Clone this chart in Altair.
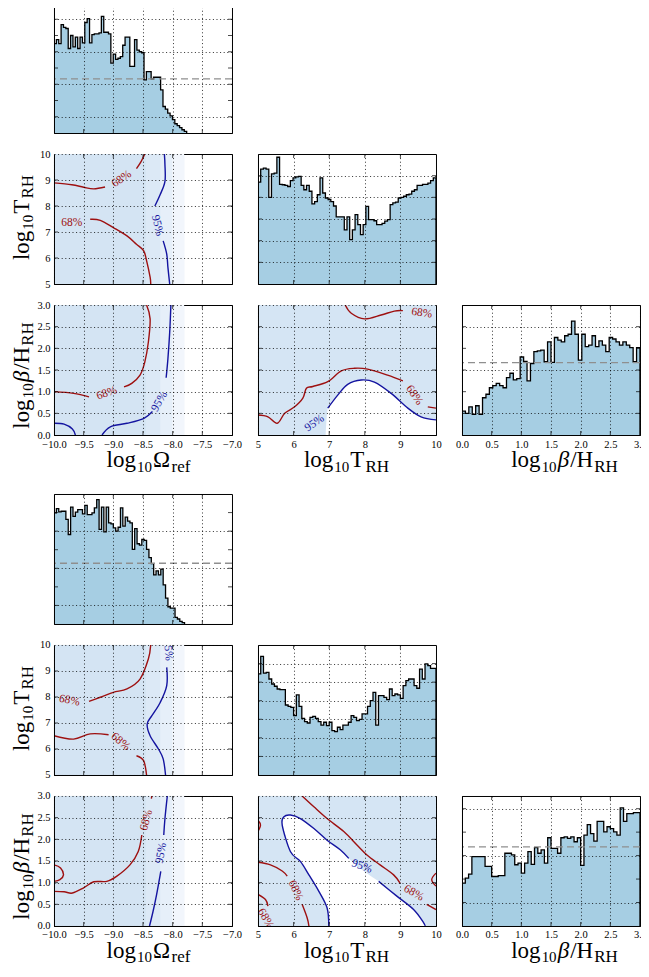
import altair as alt
import numpy as np
import pandas as pd

W, H = 178, 130
SERIF = "Liberation Serif"
RED = "#9e1010"
BLUE = "#1414a0"
HIST_FILL = "#a6cee3"
DENS = "#d5e5f4"
ONE = pd.DataFrame({"k": [0]})
XT_OFF = 32

OMEGA_DOM = [-10.0, -7.0]
T_DOM = [5.0, 10.0]
B_DOM = [0.0, 3.0]
OMEGA_TICKS = [-10.0, -9.5, -9.0, -8.5, -8.0, -7.5, -7.0]
T_TICKS = [5, 6, 7, 8, 9, 10]
B_TICKS = [0.0, 0.5, 1.0, 1.5, 2.0, 2.5, 3.0]

# ---------------- histograms (heights in grid units) ----------------
omega_top = [5.5, 5.75, 5.5, 6.67, 6.5, 6.43, 5.2, 6.0, 5.3, 5.9, 5.2, 5.9, 5.55, 6.8, 7.04, 5.55,
             6.06, 6.1, 6.1, 6.16, 7.18, 6.2, 6.2, 6.1, 4.3, 4.86, 4.53, 4.6, 4.7, 5.4, 5.9, 5.9,
             4.1, 4.1, 5.75, 5.1, 5.0, 4.94, 3.27, 3.78, 3.78, 3.33, 3.43, 3.43, 3.43, 2.65, 1.63,
             1.47, 1.22, 1.06, 0.82, 0.57, 0.45, 0.33, 0.2, 0.1]
omega_top_range = [-10.0, -7.764]
omega_top_prior = 3.33

t_top = [4.7, 5.3, 5.35, 5.3, 4.0, 5.08, 5.12, 5.85, 4.6, 4.58, 4.55, 4.5, 4.77, 4.9, 4.94, 4.97,
         4.55, 4.35, 4.55, 4.28, 3.7, 3.8, 4.12, 4.9, 4.2, 3.97, 3.9, 3.8, 3.6, 3.1, 3.1, 3.1, 2.5,
         3.1, 2.05, 2.5, 3.2, 2.74, 2.28, 2.74, 3.58, 2.97, 2.97, 2.92, 2.74, 2.74, 2.8, 2.9, 2.97,
         3.66, 3.74, 3.78, 3.97, 4.0, 4.05, 4.12, 4.15, 4.28, 4.35, 4.55, 4.55, 4.6, 4.6, 4.66,
         4.77, 4.9]

b_top = [1.1, 1.0, 1.3, 0.95, 1.35, 0.95, 1.72, 1.88, 2.18, 2.28, 2.38, 2.28, 2.18, 2.65, 2.85,
         2.54, 2.6, 3.6, 3.4, 2.5, 3.3, 3.85, 3.88, 3.92, 3.38, 4.3, 3.35, 4.5, 4.38, 4.3, 4.58,
         4.65, 5.26, 4.65, 3.46, 4.65, 4.08, 4.15, 4.58, 4.08, 4.34, 4.15, 3.85, 4.5, 4.43, 4.3,
         4.15, 4.3, 4.15, 4.03, 3.38, 4.03]
b_top_prior = 3.34

omega_bot = [5.98, 6.21, 6.04, 6.07, 6.07, 5.63, 4.82, 6.29, 5.80, 6.02, 6.16, 6.16, 5.93, 6.39,
             5.89, 5.89, 5.98, 6.25, 6.70, 5.09, 6.29, 4.96, 6.29, 5.45, 5.39, 5.18, 5.0, 5.21,
             6.25, 5.27, 5.75, 5.54, 5.45, 4.02, 5.14, 4.32, 4.25, 4.55, 4.5, 4.02, 3.57, 3.25,
             2.64, 2.86, 2.64, 2.95, 2.11, 1.39, 0.93, 0.86, 0.86, 0.36, 0.27, 0.14, 0.07]
omega_bot_range = [-10.0, -7.80]
omega_bot_prior = 3.27

t_bot = [5.44, 6.39, 5.49, 5.53, 5.17, 4.9, 4.78, 4.63, 4.6, 4.6, 3.77, 3.7, 3.64, 3.2, 4.31, 3.7,
         3.05, 2.87, 2.8, 3.1, 3.16, 3.05, 2.87, 2.69, 2.84, 2.66, 2.84, 2.39, 2.33, 2.57, 2.44,
         2.69, 2.69, 2.84, 3.2, 3.1, 2.93, 3.0, 3.29, 3.29, 3.7, 4.0, 4.45, 2.69, 4.27, 4.27, 4.18,
         4.06, 4.63, 4.27, 4.36, 4.31, 4.13, 4.81, 5.08, 5.17, 5.17, 4.81, 4.67, 5.7, 5.17, 5.98,
         5.89, 5.74, 5.74]

b_bot = [1.83, 2.04, 2.21, 2.96, 2.96, 2.96, 2.96, 2.54, 2.54, 2.11, 2.11, 2.15, 2.15, 3.1, 3.1,
         3.03, 2.61, 2.68, 2.25, 2.68, 3.17, 2.63, 3.34, 3.1, 3.24, 2.68, 3.76, 3.31, 3.31, 3.1,
         3.76, 3.8, 3.73, 3.8, 3.59, 3.76, 2.58, 3.87, 4.32, 3.94, 3.62, 4.46, 4.46, 4.01, 4.23,
         4.15, 4.01, 3.87, 5.03, 4.46, 4.79, 4.79, 4.83, 4.83]
b_bot_prior = 3.37

# ---------------- density regions ----------------
omega_band_x0 = [-10.0, -8.45, -8.2, -8.0]
omega_band_x1 = [-8.45, -8.2, -8.0, -7.8]
omega_band_col = ["#d4e4f3", "#dce9f6", "#e6eff9", "#f2f6fc"]

hole_top_x = [6.9, 6.96, 7.24, 7.52, 7.9, 8.27, 8.74, 9.21, 9.58, 10.0]
hole_top_y = [0.0, 0.62, 0.92, 1.17, 1.27, 1.22, 0.96, 0.62, 0.42, 0.35]

hole_bot_x = [5.68, 5.73, 5.91, 6.19, 6.43, 6.57, 6.71, 6.94, 6.99, 7.31, 7.55, 7.92, 8.39, 8.9,
              9.37, 9.65, 9.69]
hole_bot_hi = [2.33, 2.52, 2.56, 2.48, 2.32, 2.25, 2.15, 1.98, 1.95, 1.76, 1.56, 1.3, 1.03, 0.69,
               0.38, 0.08, 0.0]
hole_bot_lo = [2.33, 2.2, 1.72, 1.49, 1.18, 0.99, 0.8, 0.42, 0.0, 0.0, 0.0, 0.0, 0.0, 0.0, 0.0,
               0.0, 0.0]

# ---------------- contours: (level, xs, ys) ----------------
ot_top = [
    ("68", [-10.0, -9.7, -9.5, -9.33, -9.14], [8.89, 8.82, 8.72, 8.66, 8.73]),
    ("68", [-8.61, -8.53, -8.47], [9.44, 9.72, 10.0]),
    ("68", [-9.39, -9.22, -9.0, -8.77, -8.61, -8.49, -8.44, -8.38, -8.37],
     [7.49, 7.45, 7.17, 6.85, 6.53, 6.28, 5.9, 5.26, 5.0]),
    ("95", [-8.14, -8.13, -8.13, -8.21, -8.3], [10.0, 9.59, 8.95, 8.44, 8.0]),
    ("95", [-8.16, -8.1, -8.08, -8.05], [6.66, 6.15, 5.64, 5.0]),
]
ot_top_labels = [("68", -8.86, 9.04, 325), ("68", -9.70, 7.33, 0), ("95", -8.26, 7.25, 76)]

ob_top = [
    ("68", [-8.44, -8.38, -8.41, -8.47, -8.55, -8.69, -8.82], [3.0, 2.68, 2.14, 1.68, 1.38, 1.19, 1.11]),
    ("68", [-9.41, -9.67, -10.0], [0.88, 0.96, 1.0]),
    ("95", [-8.03, -8.05, -8.08, -8.11], [3.0, 2.37, 1.76, 1.32]),
    ("95", [-8.34, -8.49, -8.77, -9.05, -9.19], [0.54, 0.38, 0.27, 0.19, 0.0]),
    ("95", [-10.0, -9.83, -9.69, -9.64], [0.27, 0.25, 0.14, 0.0]),
]
ob_top_labels = [("68", -9.11, 0.96, 340), ("95", -8.22, 0.77, 300)]

tb_top = [
    ("68", [7.45, 7.62, 7.99, 8.46, 8.83, 9.07], [3.0, 2.81, 2.68, 2.77, 2.86, 2.87]),
    ("68", [5.0, 5.28, 5.54, 5.75, 6.03, 6.26, 6.36, 6.54, 6.96, 7.34, 7.71, 8.08, 8.64, 9.07],
     [0.46, 0.42, 0.27, 0.5, 0.65, 0.85, 1.08, 1.12, 1.23, 1.48, 1.54, 1.52, 1.38, 1.25]),
    ("68", [9.77, 10.0], [0.65, 0.62]),
    ("95", [6.96, 7.24, 7.52, 7.9, 8.27, 8.74, 9.21, 9.58, 10.0],
     [0.62, 0.92, 1.17, 1.27, 1.22, 0.96, 0.62, 0.42, 0.35]),
]
tb_top_labels = [("68", 9.6, 2.81, 8), ("68", 9.39, 0.92, 55), ("95", 6.59, 0.27, 325)]

ot_bot = [
    ("68", [-8.37, -8.41, -8.55, -8.77, -9.0, -9.22, -9.41], [10.0, 9.46, 8.69, 8.31, 8.18, 7.99, 7.83]),
    ("68", [-10.0, -9.67, -9.39, -9.08], [6.51, 6.38, 6.58, 6.55]),
    ("68", [-8.61, -8.49, -8.44], [5.74, 5.55, 5.0]),
    ("95", [-8.1, -8.1, -8.21, -8.35, -8.43, -8.38, -8.24, -8.16, -8.12],
     [9.14, 8.44, 7.79, 7.28, 6.96, 6.51, 6.0, 5.62, 5.0]),
]
ot_bot_labels = [("68", -9.74, 7.86, 12), ("68", -8.88, 6.28, 40), ("95", -8.08, 9.8, 85)]

ob_bot = [
    ("68", [-8.35, -8.36], [3.0, 2.94]),
    ("68", [-8.52, -8.58, -8.72, -8.94, -9.11, -9.33, -9.5, -9.69, -9.83, -10.0],
     [2.1, 1.72, 1.41, 1.15, 1.03, 1.02, 0.88, 0.76, 0.79, 0.8]),
    ("68", [-10.0, -9.89, -9.84, -9.9, -10.0], [1.41, 1.34, 1.18, 1.07, 1.03]),
    ("95", [-8.09, -8.13, -8.15], [3.0, 2.48, 2.1]),
    ("95", [-8.2, -8.27, -8.33, -8.39], [1.26, 0.73, 0.34, 0.0]),
]
ob_bot_labels = [("68", -8.44, 2.44, 285), ("95", -8.19, 1.68, 280)]

tb_bot = [
    ("95", [6.99, 6.94, 6.71, 6.43, 6.19, 5.91, 5.68, 5.73, 5.91, 6.19, 6.57, 6.94, 7.31, 7.55],
     [0.0, 0.42, 0.8, 1.18, 1.49, 1.72, 2.33, 2.52, 2.56, 2.48, 2.25, 1.98, 1.76, 1.56]),
    ("95", [8.39, 8.9, 9.37, 9.65, 9.69], [1.03, 0.69, 0.38, 0.08, 0.0]),
    ("68", [6.24, 6.57, 6.94, 7.41, 7.78, 8.06, 8.43, 8.81, 8.99],
     [3.0, 2.75, 2.48, 2.18, 1.87, 1.64, 1.41, 1.18, 0.99]),
    ("68", [9.74, 10.0], [0.5, 0.38]),
    ("68", [10.0, 9.88, 10.0], [1.22, 1.07, 0.92]),
    ("68", [5.0, 5.07, 5.0], [2.44, 2.33, 2.18]),
    ("68", [5.0, 5.35, 5.68, 5.82], [1.47, 1.41, 1.27, 1.15]),
    ("68", [6.24, 6.38, 6.43], [0.5, 0.19, 0.0]),
    ("68", [5.0, 5.21, 5.28], [0.73, 0.61, 0.46]),
]
tb_bot_labels = [("95", 7.92, 1.37, 20), ("68", 9.37, 0.76, 30), ("68", 6.05, 0.82, 65),
                 ("68", 5.21, 0.17, 60)]

# ---------------- titles ----------------
CW = {"l": 0.278, "o": 0.5, "g": 0.5, "1": 0.5, "0": 0.5, "T": 0.611, "R": 0.667, "H": 0.722,
      "Ω": 0.768, "r": 0.333, "e": 0.444, "f": 0.333, "β": 0.5, "/": 0.278}
SZ = {"main": 23, "it": 23, "sub": 15, "subl": 17}
SHIFT = {"main": 0, "it": 0, "sub": 4.5, "subl": 4.5}
GAP = 1.0

T_OMEGA = [("log", "main"), ("10", "sub"), ("Ω", "main"), ("ref", "subl")]
T_T = [("log", "main"), ("10", "sub"), ("T", "main"), ("RH", "subl")]
T_B = [("log", "main"), ("10", "sub"), ("β", "it"), ("/H", "main"), ("RH", "subl")]


def twidth(s, kind):
    return sum(CW.get(c, 0.55) for c in s) * SZ[kind] + GAP


def title_layers(pieces, cx, cy, vertical):
    total = sum(twidth(t, k) for t, k in pieces)
    pos = -total / 2.0
    out = []
    for t, k in pieces:
        if vertical:
            px, py, ang = cx + SHIFT[k], cy - pos, 270
        else:
            px, py, ang = cx + pos, cy + SHIFT[k], 0
        out.append(
            alt.Chart(ONE).mark_text(
                text=t, font=SERIF, fontSize=SZ[k], fontStyle="italic" if k == "it" else "normal",
                align="left", baseline="alphabetic", angle=ang, color="black",
            ).encode(x=alt.value(px), y=alt.value(py))
        )
        pos += twidth(t, k)
    return out


def axis(vals, labels, fmt=None):
    kw = dict(values=vals, grid=True, gridColor="black", gridDash=[1, 2.6], gridWidth=0.9,
              gridOpacity=0.9, labels=labels, ticks=False, domain=True, domainColor="black",
              title=None, zindex=1, labelFont=SERIF, labelFontSize=10.5, labelColor="black",
              labelPadding=4, labelFlush=False, labelOverlap=False)
    if fmt:
        kw["format"] = fmt
    return alt.Axis(**kw)


def tick_layers(xvals, yvals, xs, ys, xax, yax):
    dfx = pd.DataFrame({"v": xvals})
    dfy = pd.DataFrame({"v": yvals})
    out = []
    for yv in (0, H):
        out.append(alt.Chart(dfx).mark_tick(orient="vertical", size=8, thickness=1, color="black",
                                            clip=True).encode(
            x=alt.X("v:Q", scale=xs, axis=xax), y=alt.value(yv)))
    for xv in (0, W):
        out.append(alt.Chart(dfy).mark_tick(orient="horizontal", size=8, thickness=1, color="black",
                                            clip=True).encode(
            y=alt.Y("v:Q", scale=ys, axis=yax), x=alt.value(xv)))
    return out


def hist_panel(vals, rng, xdom, xgrid, ymax, prior=None, xlabels=None, xfmt=None, xtitle=None,
               xoff=0.0):
    n = len(vals)
    edges = list(np.linspace(rng[0], rng[1], n + 1))
    area_df = pd.DataFrame({"x": edges, "y": list(vals) + [vals[-1]]})
    line_df = pd.DataFrame({"x": [edges[0]] + edges[:n] + [edges[n], edges[n]],
                            "y": [0.0] + list(vals) + [vals[-1], 0.0]})
    line_df["i"] = range(len(line_df))
    xs = alt.Scale(domain=xdom, nice=False, zero=False)
    ys = alt.Scale(domain=[0, ymax], nice=False, zero=True)
    if xlabels is None:
        xax = axis(xgrid, False)
    else:
        xax = axis(xlabels, True, xfmt)
    yvals = list(range(1, int(np.ceil(ymax))))
    yax = axis(yvals, False)
    layers = [
        alt.Chart(area_df).mark_area(interpolate="step-after", color=HIST_FILL, clip=True).encode(
            x=alt.X("x:Q", scale=xs, axis=xax), y=alt.Y("y:Q", scale=ys, axis=yax)),
        alt.Chart(line_df).mark_line(interpolate="step-after", color="black", strokeWidth=1.3,
                                     clip=True).encode(
            x=alt.X("x:Q", scale=xs, axis=xax), y=alt.Y("y:Q", scale=ys, axis=yax),
            order="i:Q"),
    ]
    if prior is not None:
        layers.append(alt.Chart(ONE).mark_rule(color="#8f8f8f", strokeDash=[7, 4],
                                               strokeWidth=1.3).encode(y=alt.datum(prior)))
    layers += tick_layers(xgrid, yvals, xs, ys, xax, yax)
    if xtitle is not None:
        layers += title_layers(xtitle, W / 2 + xoff, H + XT_OFF, False)
    return alt.layer(*layers).properties(width=W, height=H)


def seg_df(segs):
    rows = []
    for si, (lvl, xs, ys) in enumerate(segs):
        for i, (x, y) in enumerate(zip(xs, ys)):
            rows.append({"x": x, "y": y, "seg": si, "lvl": lvl, "i": i})
    return pd.DataFrame(rows)


def label_df(labels):
    return pd.DataFrame([{"x": x, "y": y, "t": lvl + "%", "lvl": lvl, "ang": a}
                         for lvl, x, y, a in labels])


LVL_COLOR = alt.Color("lvl:N", scale=alt.Scale(domain=["68", "95"], range=[RED, BLUE]), legend=None)


def panel2d(kind, segs, labels, xlab, ylab, xdom, ydom, xticks, yticks, xfmt, yfmt,
            xtitle=None, xoff=0.0, ytitle=None, yoff=0.0):
    xs = alt.Scale(domain=xdom, nice=False, zero=False)
    ys = alt.Scale(domain=ydom, nice=False, zero=False)
    xax = axis(xticks, xlab, xfmt)
    yax = axis(yticks, ylab, yfmt)
    layers = []
    if kind == "omega":
        bands = pd.DataFrame({"x0": omega_band_x0, "x1": omega_band_x1, "c": omega_band_col})
        layers.append(alt.Chart(bands).mark_rect().encode(
            x=alt.X("x0:Q", scale=xs, axis=xax), x2="x1:Q",
            y=alt.value(0), y2=alt.value(H), color=alt.Color("c:N", scale=None)))
    else:
        full = pd.DataFrame({"x0": [xdom[0]], "x1": [xdom[1]]})
        layers.append(alt.Chart(full).mark_rect(color=DENS).encode(
            x=alt.X("x0:Q", scale=xs, axis=xax), x2="x1:Q", y=alt.value(0), y2=alt.value(H)))
        if kind == "tb_top":
            hole = pd.DataFrame({"x": hole_top_x, "y": hole_top_y})
            layers.append(alt.Chart(hole).mark_area(color="white", interpolate="monotone").encode(
                x=alt.X("x:Q", scale=xs, axis=xax), y=alt.Y("y:Q", scale=ys, axis=yax)))
        else:
            hole = pd.DataFrame({"x": hole_bot_x, "y": hole_bot_hi, "y2": hole_bot_lo})
            layers.append(alt.Chart(hole).mark_area(color="white", interpolate="monotone").encode(
                x=alt.X("x:Q", scale=xs, axis=xax), y=alt.Y("y:Q", scale=ys, axis=yax),
                y2="y2:Q"))
    layers.append(alt.Chart(seg_df(segs)).mark_line(strokeWidth=1.4, clip=True,
                                                    interpolate="cardinal").encode(
        x=alt.X("x:Q", scale=xs, axis=xax), y=alt.Y("y:Q", scale=ys, axis=yax),
        detail="seg:N", order="i:Q", color=LVL_COLOR))
    layers.append(alt.Chart(label_df(labels)).mark_text(font=SERIF, fontSize=11.5, clip=True).encode(
        x=alt.X("x:Q", scale=xs, axis=xax), y=alt.Y("y:Q", scale=ys, axis=yax),
        text="t:N", color=LVL_COLOR, angle=alt.Angle("ang:Q", scale=None)))
    layers += tick_layers(xticks[1:-1], yticks[1:-1], xs, ys, xax, yax)
    if xtitle is not None:
        layers += title_layers(xtitle, W / 2 + xoff, H + XT_OFF, False)
    if ytitle is not None:
        layers += title_layers(ytitle, -25, H / 2 + yoff, True)
    return alt.layer(*layers).properties(width=W, height=H)


def empty(h=H):
    return alt.Chart(ONE).mark_rule(strokeOpacity=0, strokeWidth=0.1).encode(
        x=alt.value(1), x2=alt.value(1), y=alt.value(1), y2=alt.value(1)).properties(
        width=W, height=h, view=alt.ViewBackground(strokeOpacity=0))


def corner(om_h, om_rng, om_prior, om_max, t_h, t_max, b_h, b_max, b_prior,
           ot, ot_l, ob, ob_l, tb, tb_l, tb_kind):
    return [
        hist_panel(om_h, om_rng, OMEGA_DOM, OMEGA_TICKS[1:-1], om_max, om_prior), empty(), empty(),
        panel2d("omega", ot, ot_l, False, True, OMEGA_DOM, T_DOM, OMEGA_TICKS, T_TICKS, ".1f", "d",
                ytitle=T_T, yoff=-2),
        hist_panel(t_h, T_DOM, T_DOM, T_TICKS[1:-1], t_max), empty(),
        panel2d("omega", ob, ob_l, True, True, OMEGA_DOM, B_DOM, OMEGA_TICKS, B_TICKS, ".1f", ".1f",
                xtitle=T_OMEGA, xoff=6, ytitle=T_B, yoff=5),
        panel2d(tb_kind, tb, tb_l, True, False, T_DOM, B_DOM, T_TICKS, B_TICKS, "d", ".1f",
                xtitle=T_T, xoff=0),
        hist_panel(b_h, B_DOM, B_DOM, B_TICKS[1:-1], b_max, b_prior, xlabels=B_TICKS, xfmt=".1f",
                   xtitle=T_B, xoff=14),
    ]


cells = []
cells += corner(omega_top, omega_top_range, omega_top_prior, 8, t_top, 6, b_top, 6, b_top_prior,
                ot_top, ot_top_labels, ob_top, ob_top_labels, tb_top, tb_top_labels, "tb_top")
cells += [empty(16.5), empty(16.5), empty(16.5)]
cells += corner(omega_bot, omega_bot_range, omega_bot_prior, 7, t_bot, 7, b_bot, 5.54, b_bot_prior,
                ot_bot, ot_bot_labels, ob_bot, ob_bot_labels, tb_bot, tb_bot_labels, "tb_bot")

chart = alt.concat(*cells, columns=3, spacing=alt.RowColnumber(row=21, column=26),
                   bounds="flush").configure_view(
    stroke="black", strokeWidth=1).properties(
    padding={"left": 2, "top": -6, "right": -7.3, "bottom": -1})

chart.save("out.html", embed_options={"renderer": "svg", "actions": False})
